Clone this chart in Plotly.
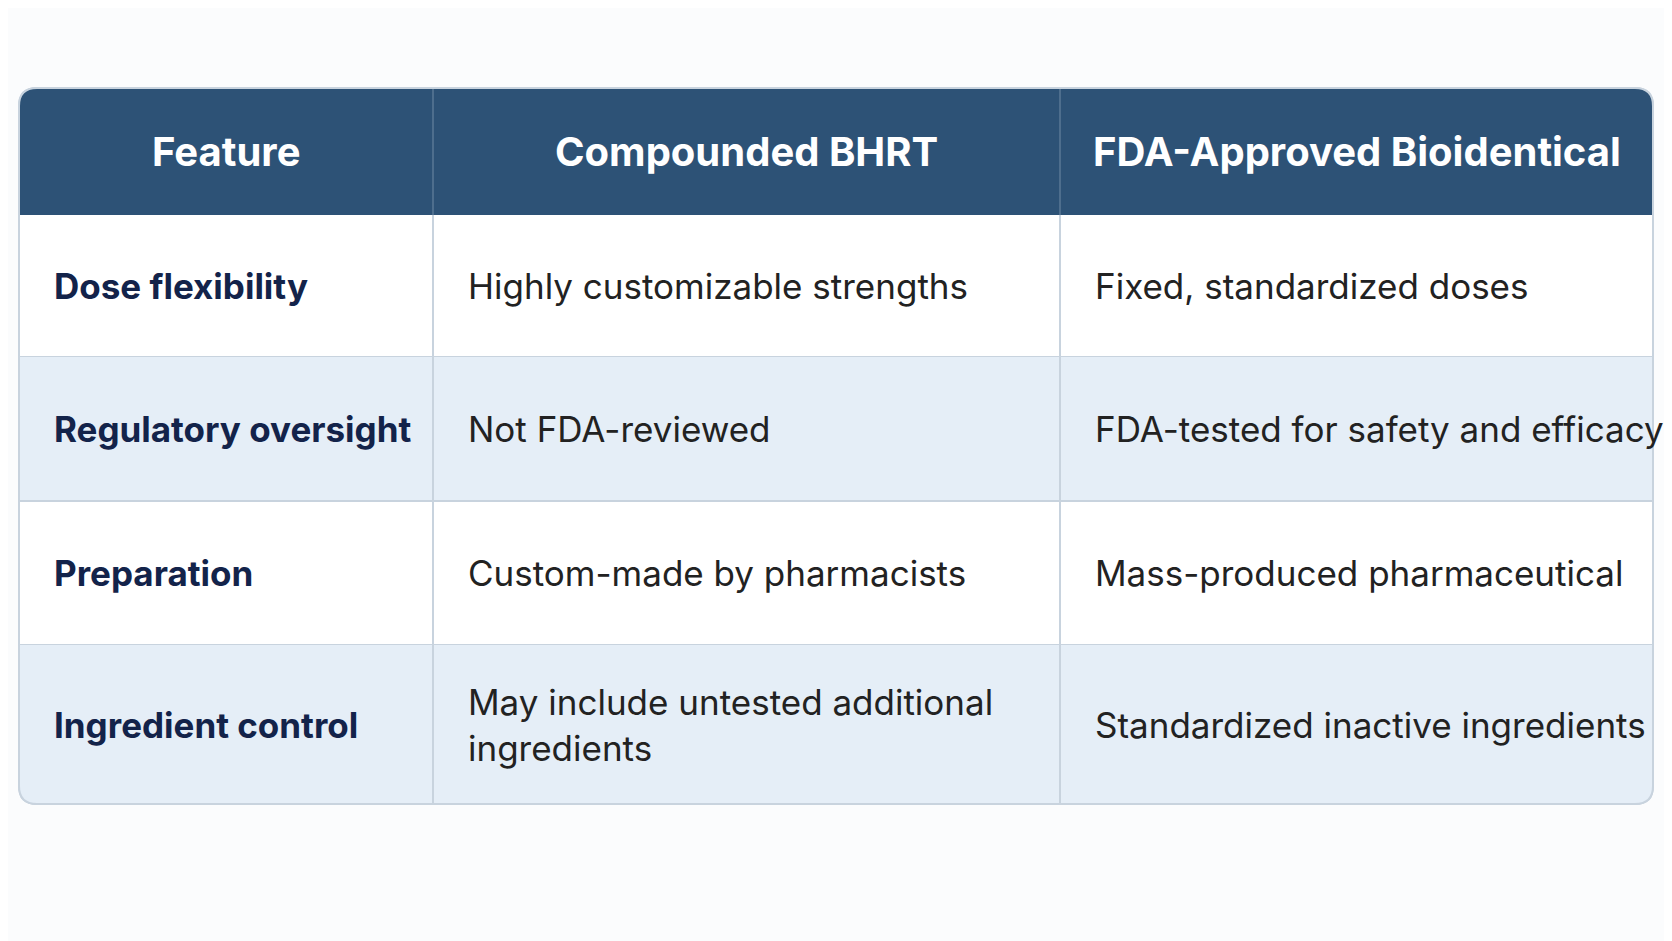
import plotly.graph_objects as go

headers = ["Feature", "Compounded BHRT", "FDA-Approved Bioidentical"]
features = ["Dose flexibility", "Regulatory oversight", "Preparation", "Ingredient control"]
compounded = ["Highly customizable strengths", "Not FDA-reviewed", "Custom-made by pharmacists",
              "May include untested additional<br>ingredients"]
fda = ["Fixed, standardized doses", "FDA-tested for safety and efficacy",
       "Mass-produced pharmaceutical", "Standardized inactive ingredients"]

W, H = 1672, 941
off = 8
xs = [19 - off, 433 - off, 1060 - off, 1653 - off]
ys = [88 - off, 215 - off, 357 - off, 501 - off, 645 - off, 804 - off]
header_bg = "#2d5276"
alt_bg = "#e5eef7"
border = "#c8d3de"
font = "Inter, Open Sans, sans-serif"

fig = go.Figure()
fig.add_trace(go.Scatter(x=[0], y=[0], mode="markers", marker=dict(opacity=0), hoverinfo="skip", showlegend=False))
shapes = []
r = 18
L, R, T, B = xs[0], xs[-1], ys[0], ys[-1]
path = (f"M{L+r},{T} L{R-r},{T} Q{R},{T} {R},{T+r} L{R},{B-r} Q{R},{B} {R-r},{B} "
        f"L{L+r},{B} Q{L},{B} {L},{B-r} L{L},{T+r} Q{L},{T} {L+r},{T} Z")
shapes.append(dict(type="path", path=path, fillcolor="white", line=dict(color=border, width=2), layer="below"))
hp = (f"M{L+r},{T} L{R-r},{T} Q{R},{T} {R},{T+r} L{R},{ys[1]} L{L},{ys[1]} L{L},{T+r} Q{L},{T} {L+r},{T} Z")
shapes.append(dict(type="path", path=hp, fillcolor=header_bg, line=dict(width=0), layer="below"))
for i in range(4):
    y0, y1 = ys[i+1], ys[i+2]
    if i % 2 == 1:
        if i == 3:
            p = (f"M{L},{y0} L{R},{y0} L{R},{y1-r} Q{R},{y1} {R-r},{y1} L{L+r},{y1} Q{L},{y1} {L},{y1-r} Z")
        else:
            p = f"M{L},{y0} L{R},{y0} L{R},{y1} L{L},{y1} Z"
        shapes.append(dict(type="path", path=p, fillcolor=alt_bg, line=dict(width=0), layer="below"))
    if i < 3:
        shapes.append(dict(type="line", x0=L, x1=R, y0=y1, y1=y1, line=dict(color=border, width=2), layer="below"))
for x in xs[1:3]:
    shapes.append(dict(type="line", x0=x, x1=x, y0=T, y1=ys[1], line=dict(color="#5a7896", width=1.5)))
    shapes.append(dict(type="line", x0=x, x1=x, y0=ys[1], y1=B, line=dict(color=border, width=2), layer="below"))
shapes.append(dict(type="path", path=path, fillcolor="rgba(0,0,0,0)", line=dict(color=border, width=2)))

ann = []
for j, h in enumerate(headers):
    ann.append(dict(x=(xs[j]+xs[j+1])/2, y=(ys[0]+ys[1])/2, text=f"<b>{h}</b>", showarrow=False,
                    font=dict(family=font, size=40, color="white")))
for i in range(4):
    yc = (ys[i+1]+ys[i+2])/2
    ann.append(dict(x=xs[0]+33, y=yc, text=f"<b>{features[i]}</b>", xanchor="left", showarrow=False,
                    font=dict(family=font, size=35, color="#13234a")))
    ann.append(dict(x=xs[1]+33, y=yc, text=compounded[i], xanchor="left", align="left", showarrow=False,
                    font=dict(family=font, size=35, color="#222")))
    ann.append(dict(x=xs[2]+33, y=yc, text=fda[i], xanchor="left", showarrow=False,
                    font=dict(family=font, size=35, color="#222")))

fig.update_layout(width=W, height=H, margin=dict(l=0, r=0, t=0, b=0),
                  paper_bgcolor="#fbfcfd", plot_bgcolor="#fbfcfd",
                  xaxis=dict(range=[0, W], visible=False),
                  yaxis=dict(range=[H, 0], visible=False),
                  shapes=shapes, annotations=ann)
fig.write_html("out.html")
